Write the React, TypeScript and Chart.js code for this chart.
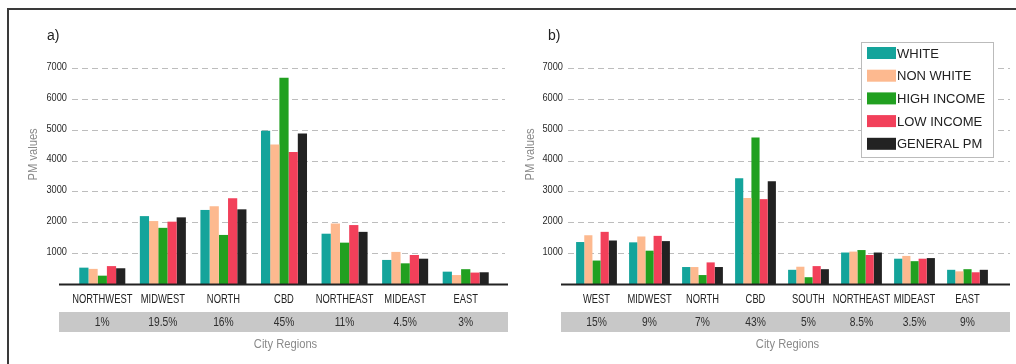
import { useEffect, useRef } from 'react';
import { Chart, registerables } from 'chart.js';

Chart.register(...registerables);

// ---- data -------------------------------------------------------------
const SERIES_NAMES = ['WHITE', 'NON WHITE', 'HIGH INCOME', 'LOW INCOME', 'GENERAL PM'];
const SERIES_COLORS = ['#14a49b', '#fdb98f', '#21a020', '#f2405a', '#222222'];

const Y_TICKS = [1000, 2000, 3000, 4000, 5000, 6000, 7000];

// panel a)
const REGIONS_A = ['NORTHWEST', 'MIDWEST', 'NORTH', 'CBD', 'NORTHEAST', 'MIDEAST', 'EAST'];
const SHARES_A = ['1%', '19.5%', '16%', '45%', '11%', '4.5%', '3%'];
const WHITE_A = [530, 2200, 2400, 4970, 1630, 780, 400];
const NON_WHITE_A = [490, 2040, 2520, 4520, 1960, 1040, 290];
const HIGH_INCOME_A = [270, 1820, 1590, 6680, 1340, 670, 480];
const LOW_INCOME_A = [580, 2020, 2780, 4280, 1910, 940, 370];
const GENERAL_PM_A = [510, 2160, 2420, 4880, 1690, 820, 380];

// panel b)
const REGIONS_B = ['WEST', 'MIDWEST', 'NORTH', 'CBD', 'SOUTH', 'NORTHEAST', 'MIDEAST', 'EAST'];
const SHARES_B = ['15%', '9%', '7%', '43%', '5%', '8.5%', '3.5%', '9%'];
const WHITE_B = [1360, 1350, 550, 3430, 460, 1020, 820, 460];
const NON_WHITE_B = [1580, 1540, 550, 2790, 560, 1050, 910, 410];
const HIGH_INCOME_B = [760, 1080, 290, 4750, 220, 1100, 740, 480];
const LOW_INCOME_B = [1690, 1560, 700, 2750, 580, 940, 820, 380];
const GENERAL_PM_B = [1410, 1390, 550, 3330, 480, 1020, 840, 460];

// ---- styling ----------------------------------------------------------
const SANS = '"Liberation Sans", Arial, sans-serif';

type PanelProps = {
  letter: string;
  regions: string[];
  shares: string[];
  series: number[][];
  left: number;
  width: number;
  yAxisWidth: number;
  padRight: number;
  categoryPercentage: number;
  gridExt: [number, number];
  baseExt: [number, number];
  letterX: number;
  yTitleX: number;
  showLegend: boolean;
};

// Draws text squeezed horizontally, giving a narrow typeface look.
function narrowText(
  ctx: CanvasRenderingContext2D,
  text: string,
  x: number,
  y: number,
  sx: number,
  align: CanvasTextAlign,
  rotate = 0,
) {
  ctx.save();
  ctx.translate(x, y);
  if (rotate) ctx.rotate(rotate);
  ctx.scale(sx, 1);
  ctx.textAlign = align;
  ctx.textBaseline = 'middle';
  ctx.fillText(text, 0, 0);
  ctx.restore();
}

function makeDecorPlugin(p: PanelProps) {
  return {
    id: 'panelDecor',
    beforeDatasetsDraw(chart: any) {
      const { ctx, chartArea } = chart;
      const y = chart.scales.y;
      ctx.save();
      ctx.strokeStyle = '#bdbdbd';
      ctx.lineWidth = 1;
      ctx.setLineDash([6, 4]);
      for (const v of Y_TICKS) {
        const py = Math.round(y.getPixelForValue(v)) + 0.5;
        ctx.beginPath();
        ctx.moveTo(chartArea.left - p.gridExt[0], py);
        ctx.lineTo(chartArea.right + p.gridExt[1], py);
        ctx.stroke();
      }
      ctx.restore();
    },
    afterDraw(chart: any) {
      const { ctx, chartArea } = chart;
      const x = chart.scales.x;
      const y = chart.scales.y;
      const bandL = chartArea.left - p.baseExt[0];
      const bandR = chartArea.right + p.baseExt[1];
      const baseY = y.getPixelForValue(0);
      ctx.save();

      // y tick labels
      ctx.fillStyle = '#2a2a2a';
      ctx.font = `10.5px ${SANS}`;
      for (const v of Y_TICKS) {
        narrowText(ctx, String(v), chartArea.left - p.gridExt[0] - 5, y.getPixelForValue(v) - 1, 0.88, 'right');
      }

      // baseline
      ctx.fillStyle = '#222222';
      ctx.fillRect(bandL, baseY - 0.5, bandR - bandL, 2);

      // region labels
      ctx.fillStyle = '#222222';
      ctx.font = `13px ${SANS}`;
      p.regions.forEach((r, i) => {
        narrowText(ctx, r, x.getPixelForValue(i), baseY + 15, 0.72, 'center');
      });

      // share band
      const bandTop = baseY + 28;
      const bandH = 20;
      ctx.fillStyle = '#c8c8c8';
      ctx.fillRect(bandL, bandTop, bandR - bandL, bandH);
      ctx.fillStyle = '#2e2e2e';
      ctx.font = `13px ${SANS}`;
      p.shares.forEach((s, i) => {
        narrowText(ctx, s, x.getPixelForValue(i), bandTop + bandH / 2, 0.79, 'center');
      });

      // axis titles
      ctx.fillStyle = '#8a8a8a';
      ctx.font = `13px ${SANS}`;
      narrowText(ctx, 'City Regions', (bandL + bandR) / 2 + 2, bandTop + bandH + 12, 0.86, 'center');
      narrowText(
        ctx,
        'PM values',
        p.yTitleX,
        chartArea.top + (chartArea.bottom - chartArea.top) * 0.4,
        0.86,
        'center',
        -Math.PI / 2,
      );

      // panel letter
      ctx.fillStyle = '#222222';
      ctx.font = `14px ${SANS}`;
      ctx.textAlign = 'left';
      ctx.textBaseline = 'middle';
      ctx.fillText(p.letter, p.letterX, chartArea.top - 32);

      // legend
      if (p.showLegend) {
        const boxR = chartArea.right - 1;
        const boxW = 132;
        const boxL = boxR - boxW;
        const boxT = chartArea.top - 26;
        const rowH = 22.7;
        const boxH = 115;
        ctx.fillStyle = '#ffffff';
        ctx.fillRect(boxL, boxT, boxW, boxH);
        ctx.strokeStyle = '#bbbbbb';
        ctx.lineWidth = 1;
        ctx.strokeRect(boxL + 0.5, boxT + 0.5, boxW, boxH);
        ctx.font = `13px ${SANS}`;
        ctx.textBaseline = 'middle';
        chart.data.datasets.forEach((ds: any, i: number) => {
          const cy = boxT + 11 + i * rowH;
          ctx.fillStyle = ds.backgroundColor;
          ctx.fillRect(boxL + 6, cy - 6, 29, 12);
          ctx.fillStyle = '#222222';
          ctx.fillText(ds.label, boxL + 36, cy + 1);
        });
      }
      ctx.restore();
    },
  };
}

function Panel(p: PanelProps) {
  const ref = useRef<HTMLCanvasElement | null>(null);

  useEffect(() => {
    if (!ref.current) return;
    const chart = new Chart(ref.current, {
      type: 'bar',
      data: {
        labels: p.regions,
        datasets: p.series.map((values, i) => ({
          label: SERIES_NAMES[i],
          data: values,
          backgroundColor: SERIES_COLORS[i],
          borderWidth: 0,
          barPercentage: 1,
          categoryPercentage: p.categoryPercentage,
        })),
      },
      options: {
        responsive: false,
        animation: false,
        devicePixelRatio: 1,
        layout: { padding: { left: 0, right: p.padRight, top: 68, bottom: 0 } },
        plugins: { legend: { display: false }, tooltip: { enabled: false } },
        scales: {
          x: {
            grid: { display: false, drawTicks: false },
            border: { display: false },
            ticks: { display: false, autoSkip: false },
            afterFit: (s: any) => {
              s.height = 80;
            },
          },
          y: {
            min: 0,
            max: 7000,
            grid: { display: false, drawTicks: false },
            border: { display: false },
            ticks: { display: false, stepSize: 1000 },
            afterFit: (s: any) => {
              s.width = p.yAxisWidth;
            },
          },
        },
      },
      plugins: [makeDecorPlugin(p)],
    });
    return () => chart.destroy();
  }, []);

  return (
    <canvas
      ref={ref}
      width={p.width}
      height={364}
      style={{ position: 'absolute', left: p.left, top: 0, width: p.width, height: 364 }}
    />
  );
}

export default function App() {
  return (
    <div style={{ position: 'absolute', left: 0, top: 0, width: 1016, height: 364, background: '#ffffff', overflow: 'hidden' }}>
      <div
        style={{
          position: 'absolute',
          left: 7,
          top: 8,
          width: 1009,
          height: 356,
          borderLeft: '2px solid #3a3a3a',
          borderTop: '2px solid #3a3a3a',
          boxSizing: 'border-box',
        }}
      />
      <Panel
        letter="a)"
        regions={REGIONS_A}
        shares={SHARES_A}
        series={[WHITE_A, NON_WHITE_A, HIGH_INCOME_A, LOW_INCOME_A, GENERAL_PM_A]}
        left={0}
        width={510}
        yAxisWidth={72}
        padRight={14}
        categoryPercentage={0.76}
        gridExt={[0, 9]}
        baseExt={[13, 12]}
        letterX={47}
        yTitleX={33}
        showLegend={false}
      />
      <Panel
        letter="b)"
        regions={REGIONS_B}
        shares={SHARES_B}
        series={[WHITE_B, NON_WHITE_B, HIGH_INCOME_B, LOW_INCOME_B, GENERAL_PM_B]}
        left={510}
        width={506}
        yAxisWidth={60}
        padRight={22}
        categoryPercentage={0.77}
        gridExt={[2, 16]}
        baseExt={[9, 16]}
        letterX={38}
        yTitleX={20}
        showLegend={true}
      />
    </div>
  );
}
